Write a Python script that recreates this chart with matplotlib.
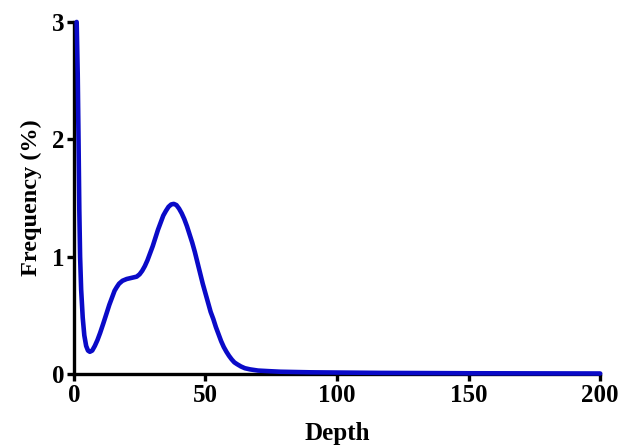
import matplotlib.pyplot as plt

# values
depth = [1.1, 1.5, 1.8, 2.1, 2.4, 2.8, 3.4, 4.0, 4.7, 5.4, 6.1, 7.0, 8.0, 9.0, 10.0,
         11.2, 12.5, 13.5, 14.5, 15.5, 16.3, 17.2, 18.5, 20.1, 22.0, 23.9, 25.0, 26.0,
         27.0, 28.0, 29.0, 30.0, 31.0, 32.0, 33.0, 34.0, 35.0, 36.0, 37.0, 38.0, 39.0,
         40.0, 41.0, 42.0, 43.0, 44.0, 45.0, 46.0, 47.0, 48.0, 49.0, 50.0, 51.0, 52.0,
         53.0, 54.0, 55.0, 56.0, 57.0, 58.0, 59.0, 60.0, 61.0, 62.0, 63.5, 65.0, 67.0,
         70.0, 74.0, 78.6, 90.0, 117.0, 150.0, 200.0]
freq = [3.0, 2.55, 2.0, 1.4, 1.0, 0.72, 0.48, 0.33, 0.24, 0.2, 0.19, 0.2, 0.24, 0.29, 0.35,
        0.43, 0.52, 0.59, 0.65, 0.71, 0.74, 0.77, 0.795, 0.81, 0.82, 0.83, 0.85, 0.88,
        0.92, 0.97, 1.03, 1.09, 1.16, 1.23, 1.29, 1.35, 1.39, 1.425, 1.445, 1.45, 1.44,
        1.41, 1.37, 1.32, 1.26, 1.19, 1.12, 1.04, 0.95, 0.86, 0.77, 0.69, 0.61, 0.53,
        0.47, 0.4, 0.34, 0.28, 0.23, 0.19, 0.155, 0.125, 0.1, 0.085, 0.065, 0.05, 0.04,
        0.03, 0.025, 0.02, 0.015, 0.01, 0.007, 0.005]

xticks = [0, 50, 100, 150, 200]
yticks = [0, 1, 2, 3]

plt.rcParams['font.family'] = ['Liberation Serif', 'DejaVu Serif']
plt.rcParams['font.weight'] = 'bold'

fig = plt.figure(figsize=(6.2, 4.48), dpi=100)
ax = fig.add_axes([0.119, 0.165, 0.849, 0.786])

ax.plot(depth, freq, color='#0a0ac8', linewidth=3.3, solid_capstyle='round',
        solid_joinstyle='round', clip_on=False, zorder=3)

ax.set_xlim(0, 200)
ax.set_ylim(0, 3)
ax.set_xticks(xticks)
ax.set_yticks(yticks)

for side in ['top', 'right']:
    ax.spines[side].set_visible(False)
for side in ['left', 'bottom']:
    ax.spines[side].set_linewidth(2.4)

ax.tick_params(axis='both', direction='out', length=5, width=2.4, labelsize=18, pad=2)
for lab in ax.get_xticklabels() + ax.get_yticklabels():
    lab.set_fontweight('bold')

ax.set_xlabel('Depth', fontsize=18, fontweight='bold', labelpad=11)
ax.set_ylabel('Frequency (%)', fontsize=17.5, fontweight='bold', labelpad=7)

fig.savefig('out.png', dpi=100)
